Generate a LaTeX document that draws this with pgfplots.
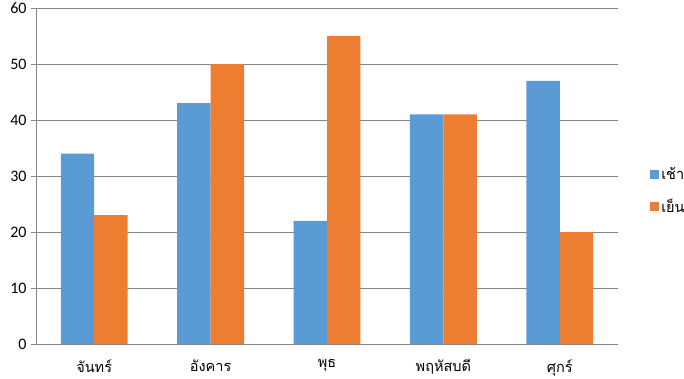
\documentclass[border=0pt]{standalone}
\usepackage{pgfplots}
\pgfplotsset{compat=1.18}
\usepackage{fontspec}
\setmainfont{Carlito}
\newfontfamily\thaifont[Script=Thai]{Loma}
\definecolor{sblue}{HTML}{5B9BD5}
\definecolor{sorange}{HTML}{ED7D31}
\definecolor{axgray}{HTML}{868686}
\begin{document}
\begin{tikzpicture}
\begin{axis}[
  at={(0,0)}, anchor=south west,
  scale only axis,
  width=582bp, height=336bp,
  xmin=-0.5, xmax=4.5,
  ymin=0, ymax=60,
  ytick={0,10,...,60},
  xtick={0,1,2,3,4},
  xticklabels={\thaifont จันทร์,\thaifont อังคาร,\thaifont พุธ,\thaifont พฤหัสบดี,\thaifont ศุกร์},
  major x tick style={draw=none},
  extra x ticks={-0.5,0.5,1.5,2.5,3.5,4.5},
  extra x tick labels={},
  extra x tick style={grid=none, major tick length=6bp, tick style={draw=axgray, line width=0.9pt}, xtick pos=bottom, tick align=outside},
  ymajorgrids,
  grid style={draw=axgray, line width=0.9pt},
  axis x line*=bottom,
  axis y line*=left,
  axis line style={draw=axgray, line width=0.9pt, -},
  y axis line style={draw=axgray},
  ytick style={draw=axgray, line width=0.9pt},
  major tick length=5bp,
  tick align=outside,
  ticklabel style={font=\fontsize{16bp}{18bp}\selectfont, text=black},
  yticklabel style={xshift=-1bp},
  xticklabel style={yshift=-7bp, font=\fontsize{14.5bp}{18bp}\selectfont},
  /pgf/number format/assume math mode=true,
  ybar=0pt,
  bar width=0.287,
  legend style={draw=none, fill=none, at={(1.05,0.455)}, anchor=west,
    font=\fontsize{14.5bp}{18bp}\selectfont\thaifont, row sep=14bp, legend cell align=left},
  legend image code/.code={\fill[#1] (0bp,-4.5bp) rectangle (9bp,4.5bp);},
]
\addplot[fill=sblue, draw=none] coordinates {(0,34) (1,43) (2,22) (3,41) (4,47)};
\addplot[fill=sorange, draw=none] coordinates {(0,23) (1,50) (2,55) (3,41) (4,20)};
\legend{เช้า,เย็น}
\end{axis}
\pgfresetboundingbox
\path[use as bounding box] (-36bp,-35bp) rectangle (648bp,344bp);
\end{tikzpicture}
\end{document}
